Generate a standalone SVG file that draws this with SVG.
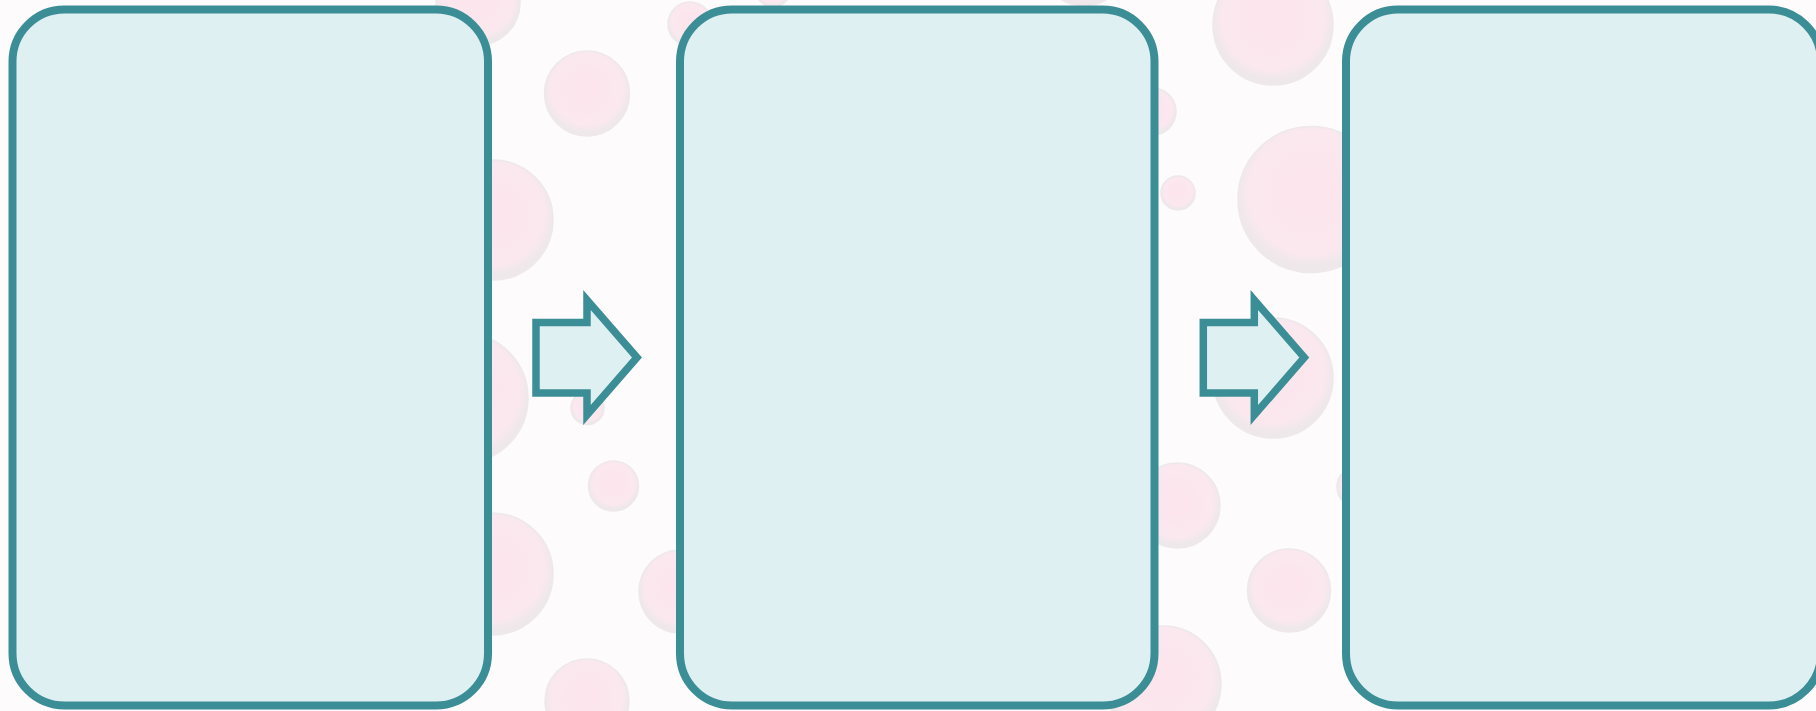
<svg xmlns="http://www.w3.org/2000/svg" width="1816" height="711" viewBox="0 0 1816 711">
  <defs>
    <radialGradient id="bubble" cx="0.5" cy="0.45" r="0.5">
      <stop offset="0" stop-color="#FDE4ED"/>
      <stop offset="0.85" stop-color="#FBE8EE"/>
      <stop offset="1" stop-color="#EFE8EB"/>
    </radialGradient>
  </defs>
  <style>
    .bg { fill: #FDFBFC; }
    .bub { fill: url(#bubble); stroke: #EEE8EA; stroke-width: 1.5; }
    .card { fill: #DFF0F3; stroke: #3C8E96; stroke-width: 8; }
    .flow { fill: #DFF0F3; stroke: #3C8E96; stroke-width: 7.5; stroke-linejoin: miter; stroke-miterlimit: 10; }
  </style>
  <rect class="bg" x="0" y="0" width="1816" height="711"/>
  <g id="bubbles">
    <circle class="bub" cx="478" cy="3" r="42"/>
    <circle class="bub" cx="587" cy="93.5" r="42.5"/>
    <circle class="bub" cx="493" cy="220" r="60"/>
    <circle class="bub" cx="463" cy="398" r="65"/>
    <circle class="bub" cx="587.5" cy="408" r="16.5"/>
    <circle class="bub" cx="613.5" cy="486" r="25"/>
    <circle class="bub" cx="492" cy="574" r="61"/>
    <circle class="bub" cx="680.5" cy="591.5" r="41.5"/>
    <circle class="bub" cx="587" cy="701" r="42"/>
    <circle class="bub" cx="690" cy="24" r="22"/>
    <circle class="bub" cx="773" cy="-10" r="17"/>
    <circle class="bub" cx="1084" cy="-36" r="42"/>
    <circle class="bub" cx="1273" cy="25" r="60"/>
    <circle class="bub" cx="1152.5" cy="111.5" r="23.5"/>
    <circle class="bub" cx="1178" cy="193" r="17"/>
    <circle class="bub" cx="1311" cy="199.5" r="73"/>
    <circle class="bub" cx="1273" cy="378" r="60"/>
    <circle class="bub" cx="1177.5" cy="505.5" r="42.5"/>
    <circle class="bub" cx="1289" cy="590.5" r="41.5"/>
    <circle class="bub" cx="1163" cy="684" r="58"/>
    <circle class="bub" cx="1357" cy="487" r="20"/>
  </g>
  <g id="node-1">
    <rect class="card" x="12.5" y="9.5" width="475.5" height="696" rx="52" ry="52"/>
  </g>
  <g id="node-2">
    <rect class="card" x="680" y="9.5" width="474.5" height="696" rx="52" ry="52"/>
  </g>
  <g id="node-3">
    <rect class="card" x="1346" y="9.5" width="475" height="696" rx="52" ry="52"/>
  </g>
  <g id="connectors">
    <polygon class="flow" points="536,322.5 587,322.5 587,300 637,357.5 587,415 587,393 536,393"/>
    <polygon class="flow" points="1203.3,322.5 1254.3,322.5 1254.3,300 1304.3,357.5 1254.3,415 1254.3,393 1203.3,393"/>
  </g>
</svg>
